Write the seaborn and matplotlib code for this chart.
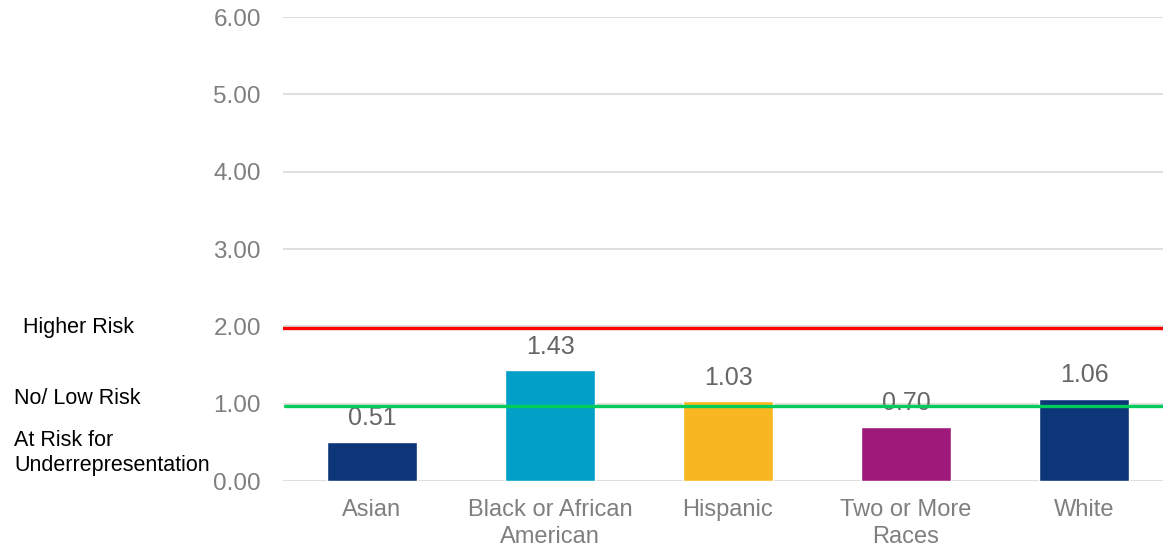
import matplotlib
matplotlib.use("Agg")
import matplotlib.pyplot as plt
import seaborn as sns
import pandas as pd

categories = ["Asian", "Black or African\nAmerican", "Hispanic", "Two or More\nRaces", "White"]
values = [0.51, 1.43, 1.03, 0.70, 1.06]
bar_colors = ["#0C3678", "#00A0C8", "#F8B620", "#9E1A7A", "#0C3678"]
yticks = [0, 1, 2, 3, 4, 5, 6]
higher_risk_level = 1.98
low_risk_level = 0.97
side_labels = ["Higher Risk", "No/ Low Risk", "At Risk for\nUnderrepresentation"]

sns.set_theme(style="white")
plt.rcParams["font.family"] = ["Liberation Sans", "DejaVu Sans"]

df = pd.DataFrame({"group": categories, "ratio": values})

W, H = 1163, 547
fig = plt.figure(figsize=(W / 100, H / 100), dpi=100)
ax = fig.add_axes([283 / W, 1 - 481 / H, 890 / W, (481 - 17) / H])

sns.barplot(data=df, x="group", y="ratio", hue="group", palette=bar_colors,
            width=0.508, legend=False, ax=ax, saturation=1, zorder=2)

ax.set_ylim(0, 6)
ax.set_yticks(yticks)
ax.set_yticklabels([f"{v:.2f}" for v in yticks])
ax.set_xlim(-0.5, len(categories) - 0.5)
ax.grid(axis="y", color="#D9D9D9", linewidth=1.2, zorder=0)
ax.set_axisbelow(True)
for s in ax.spines.values():
    s.set_visible(False)
ax.set_xlabel("")
ax.set_ylabel("")
ax.tick_params(axis="y", length=0, pad=16, labelsize=17.5, labelcolor="#7F7F7F")
ax.tick_params(axis="x", length=0, pad=13, labelsize=17, labelcolor="#7F7F7F")
for lbl in ax.get_xticklabels():
    lbl.set_linespacing(1.3)

for i, v in enumerate(values):
    ax.annotate(f"{v:.2f}", (i, v), xytext=(0, 17), textcoords="offset points",
                ha="center", va="center", fontsize=18, color="#666666", zorder=3)

ax.axhline(higher_risk_level, color="#FF0000", linewidth=2.4, zorder=4)
ax.axhline(low_risk_level, color="#00CC5C", linewidth=2.4, zorder=4, xmin=0.002)

fig.text(23 / W, 1 - 327 / H, side_labels[0], fontsize=15.5, color="black",
         ha="left", va="center")
fig.text(14 / W, 1 - 398 / H, side_labels[1], fontsize=15.5, color="black",
         ha="left", va="center")
fig.text(14 / W, 1 - 453 / H, side_labels[2], fontsize=15.5, color="black",
         ha="left", va="center", linespacing=1.3)

fig.savefig("out.png", dpi=100)
